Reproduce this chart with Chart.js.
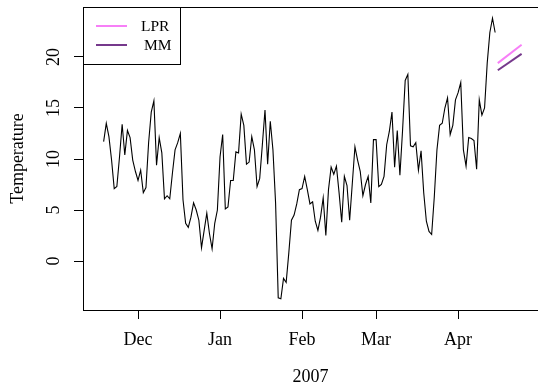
<!DOCTYPE html>
<html>
<head>
<meta charset="utf-8">
<script src="https://cdn.jsdelivr.net/npm/chart.js@4.4.0/dist/chart.umd.min.js"></script>
<style>
  html, body { margin: 0; padding: 0; background: #fff; }
  #wrap { width: 538px; height: 385px; }
</style>
</head>
<body>
<div id="wrap"><canvas id="grafico"></canvas></div>
<script>
// ------------------------------------------------------------
// Dados (dias contados a partir de 1 dez 2006)
// ------------------------------------------------------------
const primeiroDia = -13;   // 18 nov 2006
const temperatura = [
    11.7, 13.5, 12.2, 9.9, 7.1, 7.3, 10.2, 13.4, 10.4, 12.8, 12.1, 9.9, 8.8,
    7.9, 8.9, 6.7, 7.2, 11.6, 14.6, 15.7, 9.4, 12.1, 10.6,
    6.1, 6.4, 6.1, 8.6, 10.9, 11.6, 12.5, 6.0, 3.7, 3.3,
    4.3, 5.7, 5.0, 4.0, 1.3, 3.0, 4.7, 2.7, 1.2, 3.7,
    5.0, 10.2, 12.4, 5.1, 5.3, 7.9, 7.9, 10.7, 10.6, 14.4,
    13.3, 9.5, 9.7, 12.2, 10.9, 7.3, 8.1, 11.4, 14.8, 9.5,
    13.7, 10.9, 5.7, -3.6, -3.7, -1.7, -2.1, 0.8, 4.0, 4.5,
    5.6, 7.0, 7.1, 8.3, 7.0, 5.6, 5.8, 3.9, 3.0, 4.3,
    6.2, 2.5, 7.0, 9.2, 8.5, 9.3, 6.7, 3.8, 8.3, 7.4,
    4.0, 7.6, 11.2, 9.9, 8.8, 6.4, 7.5, 8.3, 5.7, 11.9,
    11.9, 7.3, 7.5, 8.3, 11.4, 12.7, 14.6, 9.2, 12.8, 8.4,
    12.8, 17.7, 18.3, 11.3, 11.2, 11.6, 8.9, 10.8, 6.7, 3.9,
    2.9, 2.6, 6.3, 10.9, 13.3, 13.5, 15.0, 16.0, 12.4, 13.3,
    15.8, 16.5, 17.5, 10.9, 9.3, 12.1, 12.0, 11.8, 9.0, 15.8,
    14.3, 15.0, 19.4, 22.4, 23.8, 22.4
];

// Previsões (início e fim)
const diasPrevisao = [136, 145];
const previsaoLPR = [19.4, 21.2];
const previsaoMM = [18.7, 20.3];

// Eixos
const diasMeses = [0, 31, 62, 90, 121];
const nomesMeses = ['Dec', 'Jan', 'Feb', 'Mar', 'Apr'];
const ticksY = [0, 5, 10, 15, 20];

const corLPR = '#f77ff7';
const corMM = '#76398c';
const fonte = '"Liberation Serif", "DejaVu Serif", serif';

// ------------------------------------------------------------
// Plugin: caixa, rótulos e legenda no estilo R
// ------------------------------------------------------------
const estiloR = {
    id: 'estiloR',
    afterDraw(chart) {
        const { ctx, chartArea: a, scales: { x, y } } = chart;
        ctx.save();
        ctx.strokeStyle = '#000';
        ctx.lineWidth = 1;
        ctx.strokeRect(a.left + 0.5, a.top + 0.5, a.right - a.left + 2, a.bottom - a.top);

        ctx.fillStyle = '#000';
        ctx.font = '18px ' + fonte;
        ctx.textAlign = 'center';
        ctx.textBaseline = 'middle';

        // rótulos do eixo x
        x.ticks.forEach((t, i) => {
            ctx.fillText(nomesMeses[i], x.getPixelForValue(t.value), 340);
        });
        // rótulos do eixo y (girados)
        y.ticks.forEach(t => {
            ctx.save();
            ctx.translate(54, y.getPixelForValue(t.value));
            ctx.rotate(-Math.PI / 2);
            ctx.fillText(String(t.value), 0, 0);
            ctx.restore();
        });
        // títulos
        ctx.fillText('2007', (a.left + a.right) / 2, 377);
        ctx.save();
        ctx.translate(18, (a.top + a.bottom) / 2);
        ctx.rotate(-Math.PI / 2);
        ctx.fillText('Temperature', 0, 0);
        ctx.restore();

        // legenda
        const lx = a.left, ly = a.top;
        ctx.strokeRect(lx + 0.5, ly + 0.5, 97, 57);
        const itens = chart.data.datasets.filter(d => d.legenda);
        itens.forEach((d, i) => {
            const yy = ly + 19 + i * 19;
            ctx.strokeStyle = d.borderColor;
            ctx.lineWidth = 2;
            ctx.beginPath();
            ctx.moveTo(lx + 13, yy);
            ctx.lineTo(lx + 44, yy);
            ctx.stroke();
            ctx.font = '15.5px ' + fonte;
            ctx.textAlign = 'left';
            ctx.fillText(d.label, lx + 58 + i * 3, yy + 1);
        });
        ctx.restore();
    }
};

// ------------------------------------------------------------
// Gráfico
// ------------------------------------------------------------
const serie = temperatura.map((v, i) => ({ x: primeiroDia + i, y: v }));
const lpr = diasPrevisao.map((d, i) => ({ x: d, y: previsaoLPR[i] }));
const mm = diasPrevisao.map((d, i) => ({ x: d, y: previsaoMM[i] }));

new Chart(document.getElementById('grafico'), {
    type: 'line',
    data: {
        datasets: [
            { label: 'Temperatura', data: serie, borderColor: '#000', borderWidth: 1.1, pointRadius: 0, tension: 0 },
            { label: 'LPR', legenda: true, data: lpr, borderColor: corLPR, borderWidth: 2, pointRadius: 0 },
            { label: 'MM', legenda: true, data: mm, borderColor: corMM, borderWidth: 2, pointRadius: 0 }
        ]
    },
    options: {
        responsive: true,
        maintainAspectRatio: false,
        animation: false,
        layout: { padding: { top: 7, right: 0, left: 0, bottom: 0 } },
        plugins: { legend: { display: false }, tooltip: { enabled: false } },
        scales: {
            x: {
                type: 'linear',
                min: -20.8,
                max: 151.2,
                afterBuildTicks: s => { s.ticks = diasMeses.map(v => ({ value: v })); },
                afterFit: s => { s.height = 75; },
                ticks: { display: false },
                border: { display: false },
                grid: { drawOnChartArea: false, color: '#000', tickLength: 9, lineWidth: 1 }
            },
            y: {
                type: 'linear',
                min: -4.8,
                max: 24.9,
                afterBuildTicks: s => { s.ticks = ticksY.map(v => ({ value: v })); },
                afterFit: s => { s.width = 83; },
                ticks: { display: false },
                border: { display: false },
                grid: { drawOnChartArea: false, color: '#000', tickLength: 9, lineWidth: 1 }
            }
        }
    },
    plugins: [estiloR]
});
</script>
</body>
</html>
